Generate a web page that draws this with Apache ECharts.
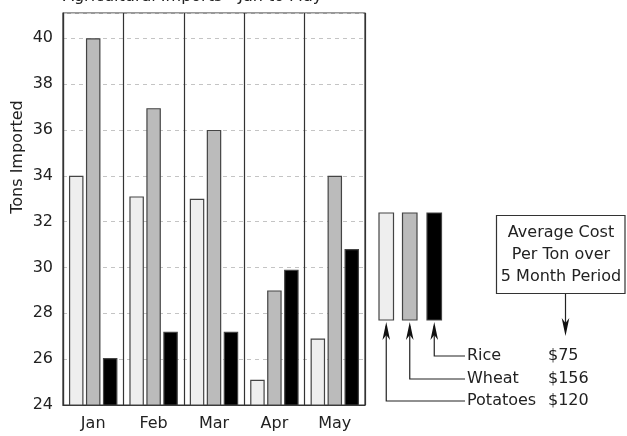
<!DOCTYPE html>
<html>
<head>
<meta charset="utf-8">
<script src="https://cdn.jsdelivr.net/npm/echarts@6/dist/echarts.min.js"></script>
<style>
html,body{margin:0;padding:0;background:#fff;}
#chart{width:627px;height:436px;}
</style>
</head>
<body>
<div id="chart"></div>
<script>
const categories = ['Jan', 'Feb', 'Mar', 'Apr', 'May'];
const potatoes = [34, 33.1, 33, 25.1, 26.9];
const wheat = [40, 36.95, 36, 29, 34];
const rice = [26.05, 27.2, 27.2, 29.9, 30.8];
const seriesNames = ['Potatoes', 'Wheat', 'Rice'];
const avgCost = ['$120', '$156', '$75'];
const seriesColors = ['#eeeeee', '#bbbbbb', '#000000'];
const titleText = 'Agricultural Imports - Jan to May';
const yAxisTitle = 'Tons Imported';
const noteLines = ['Average Cost', 'Per Ton over', '5 Month Period'];

const FONT = 'DejaVu Sans';
const TXT = '#222';

const chart = echarts.init(document.getElementById('chart'), null, {renderer: 'canvas'});

const g = [];
g.push({type: 'text', left: 63, top: -11, style: {text: titleText, font: '16px "' + FONT + '"', fill: TXT}});
g.push({type: 'text', x: 18, y: 157, rotation: Math.PI / 2, style: {text: yAxisTitle, font: '16px "' + FONT + '"', fill: TXT, align: 'center', verticalAlign: 'middle'}});

const swX = [379, 402.5, 427];
const swW = 14.5, swTop = 213, swBot = 320;
const rowY = [401, 379, 356]; // potatoes, wheat, rice
const labelX = 467, priceX = 548;
function arrowHead(cx, tipY) {
  return {type: 'polygon', shape: {points: [[cx, tipY], [cx - 3.8, tipY + 18], [cx, tipY + 13], [cx + 3.8, tipY + 18]]}, style: {fill: '#111'}};
}
seriesNames.forEach((name, i) => {
  const x = swX[i];
  g.push({type: 'rect', shape: {x: x, y: swTop, width: swW, height: swBot - swTop}, style: {fill: seriesColors[i], stroke: '#444', lineWidth: 1.2}});
  const cx = x + swW / 2;
  g.push({type: 'polyline', shape: {points: [[cx, swBot + 6], [cx, rowY[i]], [labelX - 2, rowY[i]]]}, style: {stroke: '#222', lineWidth: 1.2, fill: null}});
  g.push(arrowHead(cx, swBot + 2));
  g.push({type: 'text', x: labelX, y: rowY[i], style: {text: name, font: '16px "' + FONT + '"', fill: TXT, verticalAlign: 'middle'}});
  g.push({type: 'text', x: priceX, y: rowY[i], style: {text: avgCost[i], font: '16px "' + FONT + '"', fill: TXT, verticalAlign: 'middle'}});
});
g.push({type: 'rect', shape: {x: 496.5, y: 215.5, width: 128.5, height: 78}, style: {fill: '#fff', stroke: '#333', lineWidth: 1.2}});
noteLines.forEach((t, i) => {
  g.push({type: 'text', x: 561, y: 233 + i * 22, style: {text: t, font: '16px "' + FONT + '"', fill: TXT, align: 'center', verticalAlign: 'middle'}});
});
g.push({type: 'line', shape: {x1: 565.5, y1: 294, x2: 565.5, y2: 330}, style: {stroke: '#222', lineWidth: 1.2}});
g.push({type: 'polygon', shape: {points: [[565.5, 336], [561.7, 318], [565.5, 323], [569.3, 318]]}, style: {fill: '#111'}});

const barStyle = c => ({color: c, borderColor: '#444', borderWidth: 1.2});

chart.setOption({
  animation: false,
  backgroundColor: '#fff',
  textStyle: {fontFamily: FONT},
  grid: {left: 63, right: 262, top: 13, bottom: 31, show: true, borderColor: '#333', borderWidth: 1.2, backgroundColor: 'transparent'},
  xAxis: {
    type: 'category',
    data: categories,
    boundaryGap: true,
    axisLine: {show: true, lineStyle: {color: '#333', width: 1.2}},
    axisTick: {show: false},
    axisLabel: {fontSize: 16, color: TXT, margin: 11, fontFamily: FONT},
    splitLine: {show: true, lineStyle: {color: '#333', width: 1.2}}
  },
  yAxis: {
    type: 'value',
    min: 24,
    max: 41.1,
    interval: 2,
    axisLine: {show: true, lineStyle: {color: '#333', width: 1.2}},
    axisTick: {show: false},
    axisLabel: {fontSize: 16, color: TXT, margin: 10, fontFamily: FONT, showMaxLabel: false},
    splitLine: {show: true, lineStyle: {color: '#c4c4c4', type: [4, 4], width: 1}}
  },
  series: [
    {name: seriesNames[0], type: 'bar', data: potatoes, barWidth: 14.5, barGap: '17%', itemStyle: barStyle(seriesColors[0])},
    {name: seriesNames[1], type: 'bar', data: wheat, barWidth: 14.5, barGap: '17%', itemStyle: barStyle(seriesColors[1])},
    {name: seriesNames[2], type: 'bar', data: rice, barWidth: 14.5, barGap: '17%', itemStyle: barStyle(seriesColors[2])}
  ],
  graphic: g
});
</script>
</body>
</html>
